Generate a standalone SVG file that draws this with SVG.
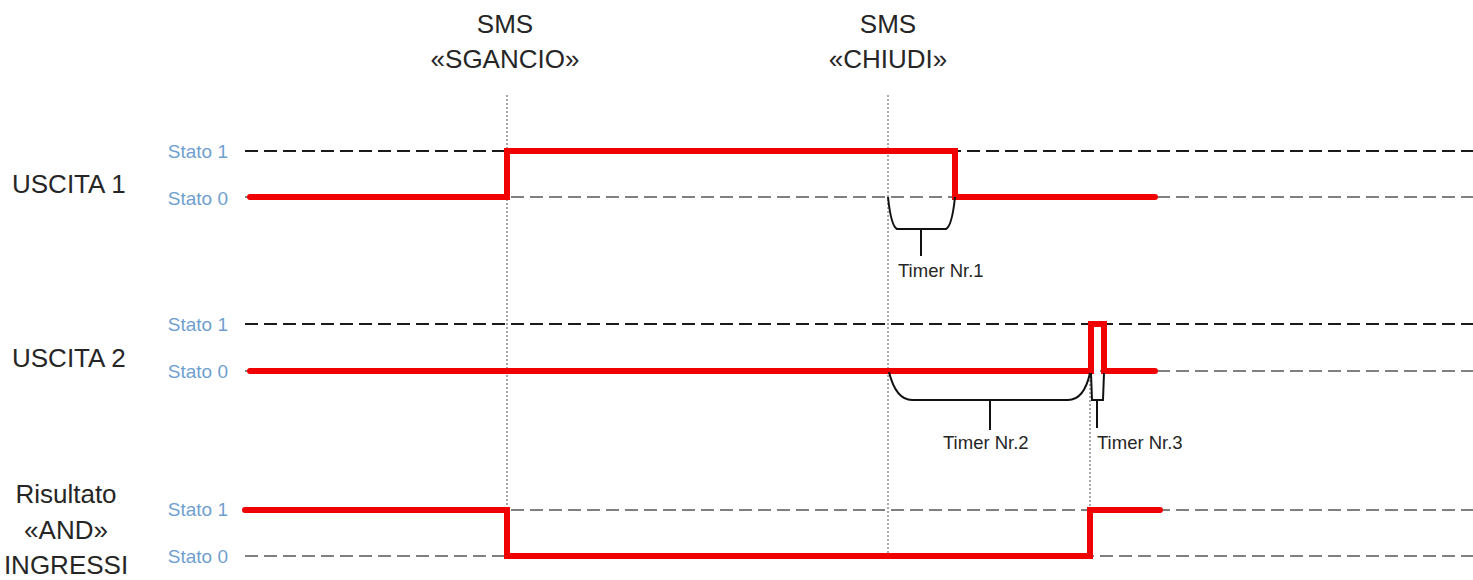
<svg xmlns="http://www.w3.org/2000/svg" width="1473" height="580" viewBox="0 0 1473 580">
  <style>
    .title { font-family: "Liberation Sans", Arial, sans-serif; font-size: 26px; fill: #262626; }
    .state { font-family: "Liberation Sans", Arial, sans-serif; font-size: 19px; fill: #6f9fcf; text-anchor: end; }
    .timer { font-family: "Liberation Sans", Arial, sans-serif; font-size: 18.5px; fill: #262626; }
    .ref1 { stroke: #1a1a1a; stroke-width: 2; stroke-dasharray: 13 6; fill: none; }
    .ref0 { stroke: #808080; stroke-width: 2; stroke-dasharray: 13 6; fill: none; }
    .event { stroke: #8c8c8c; stroke-width: 1.5; stroke-dasharray: 2 2; fill: none; }
    .signal { stroke: #f00000; stroke-width: 6; fill: none; stroke-linejoin: miter; stroke-linecap: round; }
    .brace { stroke: #111; stroke-width: 2; fill: none; }
  </style>

  <!-- event markers -->
  <g id="events">
    <g id="sms-sgancio">
      <text class="title" x="505" y="33" text-anchor="middle">SMS</text>
      <text class="title" x="505" y="68" text-anchor="middle">«SGANCIO»</text>
      <line class="event" x1="507" y1="95" x2="507" y2="556"/>
    </g>
    <g id="sms-chiudi">
      <text class="title" x="888" y="33" text-anchor="middle">SMS</text>
      <text class="title" x="888" y="68" text-anchor="middle">«CHIUDI»</text>
      <line class="event" x1="888" y1="95" x2="888" y2="556"/>
    </g>
    <line class="event" x1="1090" y1="372" x2="1090" y2="510"/>
  </g>

  <!-- USCITA 1 -->
  <g id="uscita1">
    <text class="title" x="12" y="193">USCITA 1</text>
    <text class="state" x="228" y="158">Stato 1</text>
    <text class="state" x="228" y="205">Stato 0</text>
    <line class="ref1" x1="245" y1="151" x2="1473" y2="151"/>
    <line class="ref0" x1="245" y1="197" x2="1473" y2="197"/>
  </g>

  <!-- USCITA 2 -->
  <g id="uscita2">
    <text class="title" x="12" y="367">USCITA 2</text>
    <text class="state" x="228" y="331">Stato 1</text>
    <text class="state" x="228" y="378">Stato 0</text>
    <line class="ref1" x1="245" y1="324" x2="1473" y2="324"/>
    <line class="ref0" x1="245" y1="371" x2="1473" y2="371"/>
  </g>

  <!-- AND result -->
  <g id="risultato">
    <text class="title" x="66" y="503" text-anchor="middle">Risultato</text>
    <text class="title" x="66" y="539" text-anchor="middle">«AND»</text>
    <text class="title" x="66" y="574" text-anchor="middle">INGRESSI</text>
    <text class="state" x="228" y="516">Stato 1</text>
    <text class="state" x="228" y="563">Stato 0</text>
    <line class="ref0" x1="245" y1="510" x2="1473" y2="510"/>
    <line class="ref0" x1="245" y1="556" x2="1473" y2="556"/>
  </g>

  <!-- signal traces -->
  <g id="connectors">
    <path class="signal" d="M250,197 H507 V151 H955 V197 H1155"/>
    <path class="signal" d="M250,371 H1091 V324 H1104 V371 H1155"/>
    <path class="signal" d="M245,510 H507 V556 H1090 V510 H1160"/>
  </g>

  <!-- timers -->
  <g id="timer1">
    <path class="brace" d="M888,197 Q891,226 897,229 H946 Q952,226 955,197"/>
    <line class="brace" x1="921" y1="229" x2="921" y2="256"/>
    <text class="timer" x="898" y="277">Timer Nr.1</text>
  </g>
  <g id="timer2">
    <path class="brace" d="M889,372 Q896,400 912,400 H1068 Q1084,400 1090,373"/>
    <line class="brace" x1="990" y1="400" x2="990" y2="430"/>
    <text class="timer" x="943" y="449">Timer Nr.2</text>
  </g>
  <g id="timer3">
    <path class="brace" d="M1091,373 L1092,400 H1103 L1104,373"/>
    <line class="brace" x1="1097" y1="400" x2="1097" y2="428"/>
    <text class="timer" x="1097" y="449">Timer Nr.3</text>
  </g>
</svg>
